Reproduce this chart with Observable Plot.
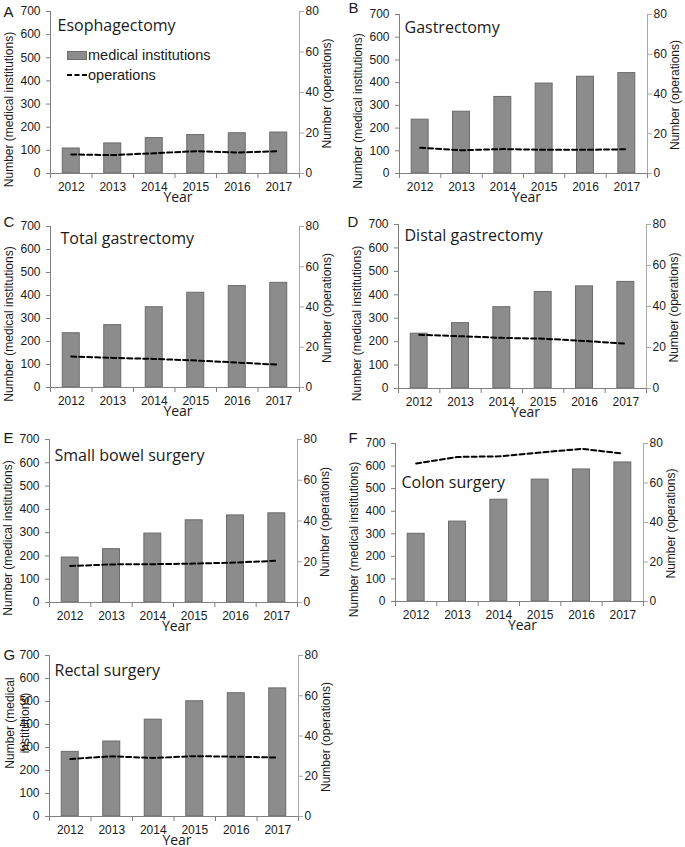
<!DOCTYPE html>
<html><head><meta charset="utf-8">
<script src="https://cdn.jsdelivr.net/npm/d3@7"></script>
<script src="https://cdn.jsdelivr.net/npm/@observablehq/plot@0.6"></script>
<style>
body{margin:0;background:#fff;}
#root{position:relative;width:685px;height:847px;overflow:hidden;background:#fff;}
.panel{position:absolute;}
.panel svg{overflow:visible;}
.legend{position:absolute;font-family:'Liberation Sans',Arial,sans-serif;font-size:14.5px;color:#1a1a1a;line-height:20px;}
.legend .row{display:flex;align-items:center;height:20px;}
.legend .sw{display:inline-block;width:18px;height:7px;background:#8c8c8c;border:1px solid #6b6b6b;margin-right:1px;}
</style></head><body><div id="root"></div>
<script>
const years = [2012, 2013, 2014, 2015, 2016, 2017];
const instTicks = [0, 100, 200, 300, 400, 500, 600, 700];
const opsTicks = [0, 20, 40, 60, 80];
const instMax = 700, opsMax = 80;
const letters = ["A", "B", "C", "D", "E", "F", "G"];
const titles = ["Esophagectomy", "Gastrectomy", "Total gastrectomy", "Distal gastrectomy", "Small bowel surgery", "Colon surgery", "Rectal surgery"];
const legendLabels = ["medical institutions", "operations"];
const xLabel = "Year";
const yLabelLeft = "Number (medical institutions)";
const yLabelLeftWrapped = "Number (medical\ninstitutions)";
const yLabelRight = "Number (operations)";

// medical institutions (left axis) and operations per institution (right axis)
const instA = [108, 130, 153, 166, 174, 177];
const opsA  = [9.4, 9.1, 10.0, 11.0, 10.4, 11.0];
const instB = [237, 272, 337, 396, 426, 442];
const opsB  = [13.0, 11.7, 12.3, 11.9, 11.9, 12.2];
const instC = [236, 271, 349, 412, 441, 455];
const opsC  = [15.4, 14.7, 14.2, 13.4, 12.4, 11.3];
const instD = [234, 279, 347, 412, 436, 455];
const opsD  = [26.2, 25.5, 24.7, 24.3, 23.2, 21.9];
const instE = [193, 229, 296, 353, 374, 383];
const opsE  = [17.9, 18.7, 18.8, 19.1, 19.6, 20.5];
const instF = [300, 354, 451, 540, 585, 616];
const opsF  = [69.9, 73.2, 73.5, 75.4, 77.3, 74.9];
const instG = [281, 326, 421, 501, 536, 557];
const opsG  = [28.6, 29.9, 29.1, 30.0, 29.7, 29.3];

const instSeries = [instA, instB, instC, instD, instE, instF, instG];
const opsSeries = [opsA, opsB, opsC, opsD, opsE, opsF, opsG];

// layout of each panel's plotting frame (page px)
const layout = [
  {col:0, L:50,  T:11,  R:299, B:173, tdx:7,  tdy:14, lx:3,   ly:12},
  {col:1, L:399, T:14,  R:647, B:173, tdx:5,  tdy:13, lx:348, ly:8},
  {col:0, L:50,  T:226, R:299, B:387, tdx:10, tdy:12, lx:3,   ly:222},
  {col:1, L:398, T:224, R:646, B:388, tdx:6,  tdy:11, lx:347, ly:222},
  {col:0, L:49,  T:439, R:297, B:602, tdx:5,  tdy:16, lx:3,   ly:438},
  {col:1, L:395, T:443, R:643, B:601, tdx:6,  tdy:39, lx:348, ly:438},
  {col:0, L:49,  T:655, R:298, B:816, tdx:5,  tdy:15, lx:3,   ly:655}
];

const root = document.getElementById("root");
const toInst = v => v * instMax / opsMax;
const boundaries = [...years.map(y => y - 0.5), years[years.length - 1] + 0.5];
const sans = "'Liberation Sans', Arial, sans-serif";
const humanist = "'Open Sans', sans-serif";

layout.forEach((lay, i) => {
  const x0 = lay.col === 0 ? 0 : 340;
  const W = lay.col === 0 ? 340 : 345;
  const mt = 11, mb = 34;
  const data = years.map((y, k) => ({year: y, inst: instSeries[i][k], ops: opsSeries[i][k]}));
  const wrapped = i === 6;
  const chart = Plot.plot({
    width: W,
    height: (lay.B - lay.T) + mt + mb,
    marginLeft: lay.L - x0,
    marginRight: x0 + W - lay.R,
    marginTop: mt,
    marginBottom: mb,
    x: {domain: [years[0] - 0.5, years[years.length - 1] + 0.5]},
    y: {domain: [0, instMax]},
    style: {fontFamily: sans, fontSize: "12px", color: "#1a1a1a", background: "transparent", overflow: "visible"},
    marks: [
      Plot.rectY(data, {x1: d => d.year - 0.205, x2: d => d.year + 0.205, y: "inst", fill: "#8c8c8c", stroke: "#6b6b6b", strokeWidth: 1}),
      Plot.lineY(data, {x: "year", y: d => toInst(d.ops), stroke: "#000", strokeWidth: 2, strokeDasharray: "5,3"}),
      Plot.ruleX([boundaries[0]], {stroke: "#808080"}),
      Plot.ruleX([boundaries[boundaries.length - 1]], {stroke: "#a8a8a8"}),
      Plot.ruleY([0], {stroke: "#808080"}),
      Plot.axisY({anchor: "left", ticks: instTicks, tickSize: 4, tickPadding: 6, label: null, stroke: "#808080"}),
      Plot.axisY({anchor: "right", ticks: opsTicks.map(toInst), tickFormat: d => String(Math.round(d * opsMax / instMax)), tickSize: 4, tickPadding: 2, label: null, stroke: "#a8a8a8"}),
      Plot.axisX({ticks: boundaries, tickSize: 5, tickFormat: () => "", label: null, stroke: "#808080"}),
      Plot.axisX({ticks: years, tickSize: 0, tickPadding: 9, tickFormat: d => String(d), label: null}),
      Plot.text([xLabel], {text: d => d, frameAnchor: "bottom", dx: 3, dy: 24, lineAnchor: "middle", fontFamily: humanist, fontSize: 14}),
      Plot.text([wrapped ? yLabelLeftWrapped : yLabelLeft], {text: d => d, frameAnchor: "left", dx: wrapped ? -32.5 : -42, dy: wrapped ? -13 : 17, rotate: -90, textAnchor: "middle", lineAnchor: "middle", lineHeight: 1.25, fontSize: 12}),
      Plot.text([yLabelRight], {text: d => d, frameAnchor: "right", dx: 28, dy: 1, rotate: -90, textAnchor: "middle", lineAnchor: "middle", fontSize: 12}),
      Plot.text([titles[i]], {text: d => d, frameAnchor: "top-left", dx: lay.tdx, dy: lay.tdy, textAnchor: "start", lineAnchor: "middle", fontFamily: humanist, fontSize: 16}),
      Plot.text([letters[i]], {text: d => d, frameAnchor: "top-left", dx: lay.lx - lay.L, dy: lay.ly - lay.T, textAnchor: "start", lineAnchor: "middle", fontSize: 15})
    ]
  });
  const div = document.createElement("div");
  div.className = "panel";
  div.style.left = x0 + "px";
  div.style.top = (lay.T - mt) + "px";
  div.appendChild(chart);
  root.appendChild(div);
});

// legend (panel A)
const lg = document.createElement("div");
lg.className = "legend";
lg.style.left = "67px";
lg.style.top = "45px";
lg.innerHTML = `<div class="row"><span class="sw"></span><span>${legendLabels[0]}</span></div>
<div class="row"><svg width="20" height="8" style="margin-right:1px"><line x1="0" y1="4" x2="20" y2="4" stroke="#000" stroke-width="2" stroke-dasharray="5,2.5"/></svg><span>${legendLabels[1]}</span></div>`;
root.appendChild(lg);
</script></body></html>
